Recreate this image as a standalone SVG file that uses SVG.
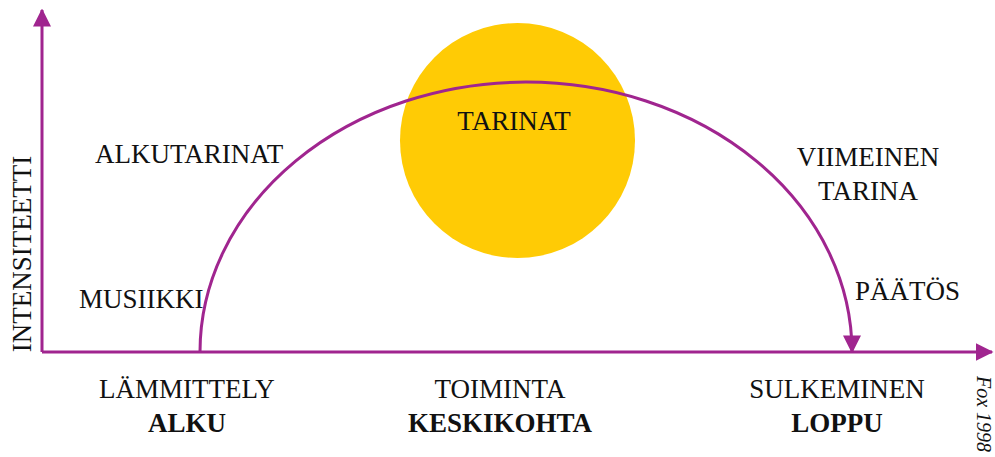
<svg xmlns="http://www.w3.org/2000/svg" width="995" height="457" viewBox="0 0 995 457">
<style>
text{font-family:"Liberation Serif","DejaVu Serif",serif;font-size:27px;fill:#111}
.c{text-anchor:middle}
.b{font-weight:bold}
.fox{font-style:italic;font-size:20px}
.ax{stroke:#a0258f;stroke-width:3;fill:none}
</style>
<defs>
<marker id="arr" viewBox="0 0 12 12" refX="11" refY="6" markerWidth="18" markerHeight="18" markerUnits="userSpaceOnUse" orient="auto"><path d="M0,0 L12,6 L0,12 Z" fill="#a0258f"/></marker>
</defs>
<g id="sun"><circle cx="517.5" cy="140.5" r="117.5" fill="#ffcb05"/></g>
<g id="connectors">
<path class="ax" d="M42,352 V10" marker-end="url(#arr)"/>
<path class="ax" d="M42,352 H992" marker-end="url(#arr)"/>
<path class="ax" d="M200,352 A326,270 0 0 1 852,352" marker-end="url(#arr)"/>
</g>
<g id="labels">
<text class="c" x="514" y="130">TARINAT</text>
<text x="95" y="163">ALKUTARINAT</text>
<text class="c" x="868" y="166">VIIMEINEN</text>
<text class="c" x="868" y="200">TARINA</text>
<text x="79" y="308">MUSIIKKI</text>
<text x="855" y="300">PÄÄTÖS</text>
<text class="c" x="187" y="398">LÄMMITTELY</text>
<text class="c b" x="187" y="432">ALKU</text>
<text class="c" x="500" y="398">TOIMINTA</text>
<text class="c b" x="500" y="432">KESKIKOHTA</text>
<text class="c" x="837" y="398">SULKEMINEN</text>
<text class="c b" x="837" y="432">LOPPU</text>
<text class="c" transform="translate(31,254) rotate(-90)">INTENSITEETTI</text>
<text class="c fox" transform="translate(977,414) rotate(90)">Fox 1998</text>
</g>
</svg>
